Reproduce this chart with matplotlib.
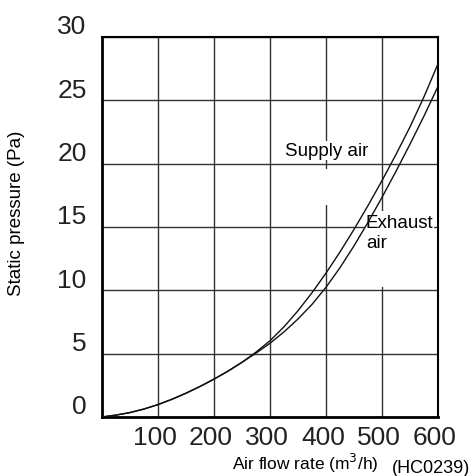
import matplotlib
matplotlib.use('Agg')
import matplotlib.pyplot as plt
import matplotlib.transforms as mtransforms
from matplotlib.patches import Rectangle

plt.rcParams['font.family'] = ['Liberation Sans', 'DejaVu Sans']

flow = [0, 25, 50, 75, 100, 125, 150, 175, 200, 225, 250, 275, 300,
        325, 350, 375, 400, 425, 450, 475, 500, 525, 550, 575, 600]
supply_air = [0, 0.15, 0.35, 0.63, 0.98, 1.4, 1.88, 2.41, 2.99, 3.62, 4.32, 5.12, 6.02,
              7.12, 8.39, 9.81, 11.36, 13.03, 14.81, 16.69, 18.66, 20.73, 22.9, 25.28, 27.88]
exhaust_air = [0, 0.15, 0.35, 0.63, 0.98, 1.4, 1.88, 2.41, 2.99, 3.62, 4.32, 5.04, 5.82,
               6.72, 7.74, 8.89, 10.24, 11.79, 13.51, 15.37, 17.34, 19.4, 21.54, 23.76, 26.1]

x_ticks = [100, 200, 300, 400, 500, 600]
y_ticks = [0, 5, 10, 15, 20, 25, 30]

fig = plt.figure(figsize=(4.77, 4.77), dpi=100)
ax = fig.add_axes([102/477, 59/477, 336/477, 380/477])

ax.set_xlim(0, 600)
ax.set_ylim(0, 30)
ax.set_xticks(x_ticks)
ax.set_yticks(y_ticks)
ax.grid(True, color='#333333', linewidth=1.0, zorder=1)
ax.set_axisbelow(True)

for side in ['left', 'bottom']:
    ax.spines[side].set_linewidth(2.0)
for side in ['top', 'right']:
    ax.spines[side].set_linewidth(1.5)

ax.tick_params(axis='both', length=0, labelsize=19, colors='#222222')
ax.tick_params(axis='y', pad=11)
ax.tick_params(axis='x', pad=6)

# tick labels sit a bit off the grid lines in the original
dy = mtransforms.ScaledTranslation(0, 13/100, fig.dpi_scale_trans)
for lab in ax.get_yticklabels():
    lab.set_transform(lab.get_transform() + dy)
dx = mtransforms.ScaledTranslation(-3/100, 0, fig.dpi_scale_trans)
for lab in ax.get_xticklabels():
    lab.set_transform(lab.get_transform() + dx)

# gaps in the grid near the labels
ax.add_patch(Rectangle((394, 16.7), 12, 2.9, facecolor='white', edgecolor='none', zorder=1.5))
ax.add_patch(Rectangle((494, 10.3), 12, 6.0, facecolor='white', edgecolor='none', zorder=1.5))

ax.plot(flow, supply_air, color='#111111', linewidth=1.0, zorder=3)
ax.plot(flow, exhaust_air, color='#111111', linewidth=1.0, zorder=3)

ax.text(327, 20.7, 'Supply air', fontsize=13.5, va='baseline', ha='left',
        bbox=dict(facecolor='white', edgecolor='none', pad=0.5), zorder=2)
ax.text(471, 15.0, 'Exhaust', fontsize=13.5, va='baseline', ha='left',
        bbox=dict(facecolor='white', edgecolor='none', pad=0.5), zorder=2)
ax.text(471, 13.4, 'air', fontsize=13.5, va='baseline', ha='left',
        bbox=dict(facecolor='white', edgecolor='none', pad=0.5), zorder=2)

fig.text(232/477, 1 - 470/477, 'Air flow rate (m$^3$/h)', fontsize=12.5, va='baseline', ha='left')
fig.text(392/477, 1 - 473/477, '(HC0239)', fontsize=13, va='baseline', ha='left')
fig.text(17/477, 1 - 213/477, 'Static pressure (Pa)', fontsize=13.5, va='center', ha='center', rotation=90)

fig.savefig('out.png', dpi=100)
